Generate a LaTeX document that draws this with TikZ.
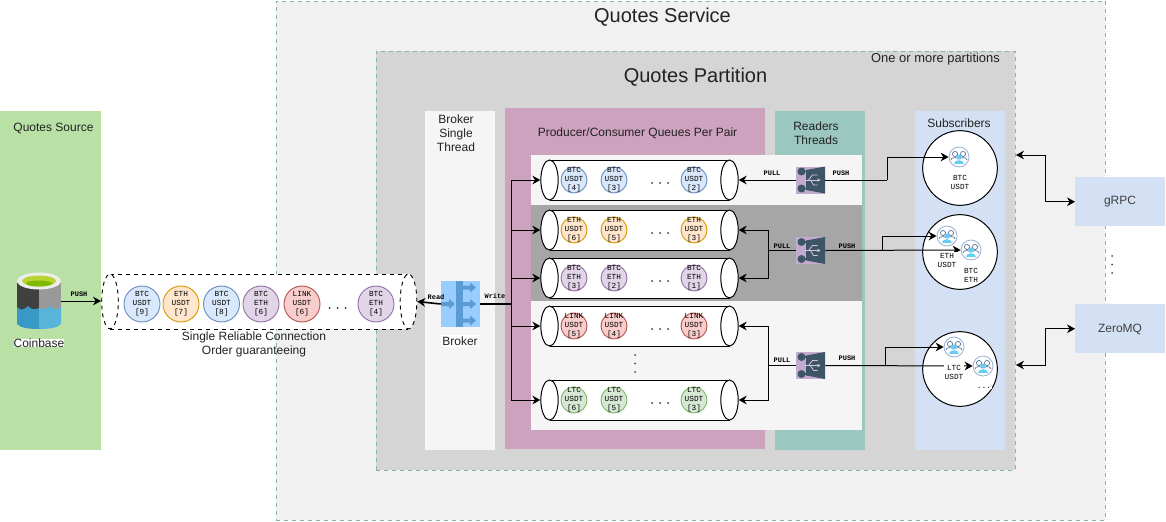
\documentclass[tikz,border=0pt]{standalone}
\usepackage{fontspec}
\setmainfont{Liberation Sans}
\newfontfamily\monof{Liberation Mono}
\usetikzlibrary{arrows.meta,shapes.geometric,calc}
\definecolor{svcfill}{HTML}{F1F1F1}
\definecolor{partfill}{HTML}{D5D5D5}
\definecolor{dashgreen}{HTML}{82B8A0}
\definecolor{srcfill}{HTML}{B9E0A5}
\definecolor{brkfill}{HTML}{F5F5F5}
\definecolor{prodfill}{HTML}{CDA2BE}
\definecolor{readfill}{HTML}{9AC7BF}
\definecolor{subfill}{HTML}{D4E1F5}
\definecolor{grayband}{HTML}{A6A6A6}
\definecolor{txt}{HTML}{222222}
\definecolor{bluef}{HTML}{DAE8FC}\definecolor{blued}{HTML}{6C8EBF}
\definecolor{orgf}{HTML}{FFE6CC}\definecolor{orgd}{HTML}{D79B00}
\definecolor{purf}{HTML}{E1D5E7}\definecolor{purd}{HTML}{9673A6}
\definecolor{redf}{HTML}{F8CECC}\definecolor{redd}{HTML}{B85450}
\definecolor{grnf}{HTML}{D5E8D4}\definecolor{grnd}{HTML}{82B366}
\definecolor{muxl}{HTML}{C3ABD0}\definecolor{muxd}{HTML}{3E5566}
\definecolor{iconb}{HTML}{99CCFF}\definecolor{icond}{HTML}{5B9BD5}
\definecolor{lowl}{HTML}{3999C6}\definecolor{lowr}{HTML}{59B4D9}
\definecolor{limea}{HTML}{B8D432}\definecolor{limeb}{HTML}{7FBA00}
\tikzset{
  pane/.style={draw=none,inner sep=0pt,anchor=north west},
  ttl/.style={font=\fontsize{9}{10.5}\selectfont,text=txt,align=center,inner sep=0pt},
  mono/.style={font=\monof\bfseries\fontsize{5.2}{6}\selectfont,inner sep=0pt,text=black},
  coinlab/.style={font=\monof\fontsize{5.8}{6.75}\selectfont,align=center,inner sep=0pt,text=black},
  arr/.style={draw=black,line width=0.75pt,-{Stealth[length=6pt,width=6.5pt]}},
  dbl/.style={draw=black,line width=0.75pt,{Stealth[length=6pt,width=6.5pt]}-{Stealth[length=6pt,width=6.5pt]}},
  wire/.style={draw=black,line width=0.75pt},
  dotty/.style={circle,fill=#1,inner sep=0pt,minimum size=1.5pt},
}
\newcommand{\panel}[6]{%
  \pgfmathsetmacro\pw{(#4-#2)*0.75}\pgfmathsetmacro\ph{(#5-#3)*0.75}%
  \node[pane,minimum width=\pw pt,minimum height=\ph pt,#6] (#1) at (#2,#3) {};}
\newcommand{\coin}[8]{%
  \node[circle,draw=#5,fill=#4,line width=0.7pt,minimum size=#6*1.5pt,inner sep=0pt] (#1) at (#2,#3) {};
  \node[coinlab] (#1t) at (#2,#3) {#7\\{}#8};}
\newcommand{\queue}[2]{%
  \fill[white] (550,#2-20) rectangle (730,#2+20);
  \draw[black,line width=0.75pt] (550,#2-20) -- (730,#2-20) (550,#2+20) -- (730,#2+20);
  \node[ellipse,draw=black,fill=white,line width=0.75pt,minimum width=13pt,minimum height=30pt,inner sep=0pt] (#1L) at (549.5,#2) {};
  \node[ellipse,draw=black,fill=white,line width=0.75pt,minimum width=13pt,minimum height=30pt,inner sep=0pt] (#1R) at (729.5,#2) {};}
\newcommand{\threedots}[3]{%
  \node[dotty=black!80] (#1a) at (#2-8,#3) {};\node[dotty=black!80] (#1b) at (#2,#3) {};\node[dotty=black!80] (#1c) at (#2+8,#3) {};}
\newcommand{\vdotsn}[5]{%
  \node[dotty=black!70] (#1a) at (#2,#3) {};\node[dotty=black!70] (#1b) at (#2,#4) {};\node[dotty=black!70] (#1c) at (#2,#5) {};}
\newcommand{\mux}[3]{%
  \node[draw=none,fill=muxl,inner sep=0pt,minimum width=21.75pt,minimum height=20.25pt] (#1) at (#2,#3) {};
  \fill[muxd] (#2-4.5,#3-10) -- (#2+14.5,#3-13.5) -- (#2+14.5,#3+13.5) -- (#2-4.5,#3+10) -- cycle;
  \fill[muxd] (#2-9,#3-8.5) circle[radius=4] (#2-9,#3+8.5) circle[radius=4];
  \draw[muxd,line width=1pt] (#2-9,#3-8.5) -- (#2-3,#3-8.5) (#2-9,#3+8.5) -- (#2-3,#3+8.5);
  \draw[muxl!70!white,line width=0.6pt,-{Stealth[length=2.5pt,width=2.5pt]}] (#2-6,#3) -- (#2+10,#3);
  \draw[muxl!70!white,line width=0.6pt] (#2-2,#3) -- (#2+2,#3-5) -- (#2+7,#3-5) (#2,#3) -- (#2+3,#3+5) -- (#2+7,#3+5);
}
\newcommand{\usericon}[3]{%
  \node[circle,draw=blued!70,fill=white,line width=0.6pt,minimum size=15pt,inner sep=0pt] (#1) at (#2,#3) {};
  \begin{scope}[shift={(#2,#3)}]
    \draw[blued!80!black,line width=0.5pt,fill=white] (-4,-3) circle[radius=2.6] (4,-3) circle[radius=2.6];
    \draw[blued!80!black,line width=0.5pt] (-8,3) .. controls (-8,0) and (-2,0) .. (-1,2) (8,3) .. controls (8,0) and (2,0) .. (1,2);
    \fill[cyan!60!white] (0,0) circle[radius=2.6];
    \fill[cyan!60!white] (-5,7) .. controls (-5,2) and (5,2) .. (5,7) -- cycle;
  \end{scope}}
\begin{document}
\begin{tikzpicture}[x=0.75pt,y=-0.75pt]
\useasboundingbox (0,0) rectangle (1166,521);
% panels
\panel{svc}{276}{0.5}{1105}{520}{fill=svcfill,draw=dashgreen,dashed,line width=0.6pt}
\panel{part}{376}{51}{1015}{470}{fill=partfill,draw=dashgreen,dashed,line width=0.6pt}
\panel{src}{0}{111}{101}{450}{fill=srcfill}
\panel{brkp}{425}{111}{495}{450}{fill=brkfill}
\panel{prod}{505}{108}{765}{449}{fill=prodfill}
\panel{read}{775}{111}{865}{450}{fill=readfill}
\panel{subs}{915}{111}{1005}{450}{fill=subfill}
\panel{rowa}{531}{155}{862}{205}{fill=brkfill}
\panel{rowb}{531}{205}{862}{301}{fill=grayband}
\panel{rowc}{531}{301}{862}{430}{fill=brkfill}
\panel{grpc}{1075}{177}{1165}{226}{fill=subfill}
\panel{zmq}{1075}{304}{1165}{353}{fill=subfill}
% titles
\node[ttl,font=\fontsize{15}{17}\selectfont] (tsvc) at (662.5,17) {Quotes Service};
\node[ttl,font=\fontsize{15}{17}\selectfont] (tpart) at (695.5,77) {Quotes Partition};
\node[ttl,font=\fontsize{9.7}{11}\selectfont] (tone) at (935.5,59) {One or more partitions};
\node[ttl] (tsrc) at (53.5,128.5) {Quotes Source};
\node[ttl] (tbrk) at (456,133) {Broker\\Single\\Thread};
\node[ttl] (tprod) at (637.5,133.5) {Producer/Consumer Queues Per Pair};
\node[ttl] (tread) at (816,133) {Readers\\Threads};
\node[ttl] (tsubs) at (959,123) {Subscribers};
\node[ttl,text=black!75] (tgrpc) at (1120,202) {gRPC};
\node[ttl,text=black!75] (tzmq) at (1120,329) {ZeroMQ};
% coinbase icon
\begin{scope}
  \fill[black!75] (17,283) -- (39,283) -- (39,310) -- (17,310) -- cycle;
  \fill[black!40] (39,283) -- (61,283) -- (61,310) -- (39,310) -- cycle;
  \fill[lowl] (17,307) .. controls (21,311) and (24,310) .. (28,306) .. controls (31,310) and (36,310) .. (39,308) -- (39,329) .. controls (30,329) and (20,328) .. (17,324) -- cycle;
  \fill[lowr] (39,308) .. controls (43,310) and (46,310) .. (50,306) .. controls (53,310) and (57,310) .. (61,307) -- (61,324) .. controls (58,328) and (48,329) .. (39,329) -- cycle;
  \fill[white!93!black] (39,281) ellipse[x radius=22,y radius=8.5];
  \fill[limea] (39,281) ellipse[x radius=17,y radius=5.5];
  \fill[limeb] (39,283.5) ellipse[x radius=13,y radius=3];
\end{scope}
\node[fill=white,inner sep=1pt,ttl] (lcb) at (39,343) {Coinbase};
% main cylinder
\fill[white] (110,274) rectangle (408,329);
\draw[black,dashed,line width=0.7pt] (110,274) -- (408,274) (110,329) -- (408,329);
\node[ellipse,draw=black,dashed,fill=white,line width=0.7pt,minimum width=12.5pt,minimum height=41pt,inner sep=0pt] (mL) at (110,301.5) {};
\node[ellipse,draw=black,dashed,fill=white,line width=0.7pt,minimum width=12.5pt,minimum height=41pt,inner sep=0pt] (mR) at (408.5,301.5) {};
\coin{ma}{142}{304}{bluef}{blued}{18}{BTC\\USDT}{[9]}
\coin{mb}{181}{304}{orgf}{orgd}{18}{ETH\\USDT}{[7]}
\coin{mc}{221.5}{304}{bluef}{blued}{18}{BTC\\USDT}{[8]}
\coin{md}{261}{304}{purf}{purd}{18}{BTC\\ETH}{[6]}
\coin{me}{302}{304}{redf}{redd}{18}{LINK\\USDT}{[6]}
\coin{mf}{376}{304}{purf}{purd}{18}{BTC\\ETH}{[4]}
\threedots{mdots}{337.5}{308}
\node[ttl] (lcon) at (254,344) {Single Reliable Connection\\Order guaranteeing};
% queues
\queue{qa}{180}
\queue{qb}{230}
\queue{qc}{278}
\queue{qd}{326}
\queue{qe}{400}
\coin{a1}{574}{180}{bluef}{blued}{13}{BTC\\USDT}{[4]}
\coin{a2}{614}{180}{bluef}{blued}{13}{BTC\\USDT}{[3]}
\coin{a3}{694}{180}{bluef}{blued}{13}{BTC\\USDT}{[2]}
\threedots{ad}{660}{183}
\coin{b1}{574}{230}{orgf}{orgd}{13}{ETH\\USDT}{[6]}
\coin{b2}{614}{230}{orgf}{orgd}{13}{ETH\\USDT}{[5]}
\coin{b3}{694}{230}{orgf}{orgd}{13}{ETH\\USDT}{[3]}
\threedots{bd}{660}{233}
\coin{c1}{574}{278}{purf}{purd}{13}{BTC\\ETH}{[3]}
\coin{c2}{614}{278}{purf}{purd}{13}{BTC\\ETH}{[2]}
\coin{c3}{694}{278}{purf}{purd}{13}{BTC\\ETH}{[1]}
\threedots{cd}{660}{281}
\coin{d1}{574}{326}{redf}{redd}{13}{LINK\\USDT}{[5]}
\coin{d2}{614}{326}{redf}{redd}{13}{LINK\\USDT}{[4]}
\coin{d3}{694}{326}{redf}{redd}{13}{LINK\\USDT}{[3]}
\threedots{dd}{660}{329}
\coin{e1}{574}{400}{grnf}{grnd}{13}{LTC\\USDT}{[6]}
\coin{e2}{614}{400}{grnf}{grnd}{13}{LTC\\USDT}{[5]}
\coin{e3}{694}{400}{grnf}{grnd}{13}{LTC\\USDT}{[3]}
\threedots{ed}{660}{403}
\vdotsn{qv}{635}{355}{363.5}{372}
\vdotsn{sv}{1112}{256}{264.5}{273}
% broker icon
\node[draw=none,fill=iconb,inner sep=0pt,minimum width=29.25pt,minimum height=34.5pt] (brk) at (460.5,304) {};
\fill[icond] (456,281) rectangle (462.5,327);
\foreach \yy in {287.5,304,320.5}{
  \fill[icond] (462,\yy-2) -- (470,\yy-2) -- (470,\yy-5) -- (476,\yy) -- (470,\yy+5) -- (470,\yy+2) -- (462,\yy+2) -- cycle;}
\fill[icond] (441,302) -- (449,302) -- (449,299) -- (455,304) -- (449,309) -- (449,306) -- (441,306) -- cycle;
\node[ttl,fill=white,inner sep=1pt] (lbrk) at (460,341) {Broker};
% mux
\mux{m1}{810.5}{180}
\mux{m2}{810.5}{250.5}
\mux{m3}{810.5}{365.5}
% subscribers
\node[circle,draw=black,fill=white,line width=0.75pt,minimum size=56pt,inner sep=0pt] (s1) at (960,168) {};
\node[circle,draw=black,fill=white,line width=0.75pt,minimum size=56pt,inner sep=0pt] (s2) at (960,252) {};
\node[circle,draw=black,fill=white,line width=0.75pt,minimum size=56pt,inner sep=0pt] (s3) at (960,369) {};
\usericon{u1}{959}{157}
\usericon{u2}{947}{236}
\usericon{u3}{971}{250}
\usericon{u4}{954}{347}
\usericon{u5}{983}{366}
% junctions
\coordinate (jw) at (511,304);
\coordinate (jp1) at (887,180);
\coordinate (jp2) at (882,250.5);
\coordinate (jp3) at (885,365.5);
\coordinate (jl2) at (768,250.5);
\coordinate (jl3) at (768,365.5);
\coordinate (jg) at (1045,155);
\coordinate (jz) at (1045,365);
\coordinate (ag) at (1016,155);
\coordinate (az) at (1016,365);
\coordinate (pend) at (101,301);
\coordinate (pstart) at (61,301);
% connectors
\draw[arr] (pstart) -- (pend);
\draw[arr,line width=1.2pt] (brk.west) -- (mR.east);
\draw[wire,line width=1.4pt] (brk.east) -- (jw);
\draw[arr] (jw) |- (qaL.west);
\draw[arr] (jw) |- (qbL.west);
\draw[arr] (jw) |- (qcL.west);
\draw[arr] (jw) |- (qdL.west);
\draw[arr] (jw) |- (qeL.west);
\draw[arr] (m1.west) -- (qaR.east);
\draw[wire] (m2.west) -- (jl2);
\draw[arr] (jl2) |- (qbR.east);
\draw[arr] (jl2) |- (qcR.east);
\draw[wire] (m3.west) -- (jl3);
\draw[arr] (jl3) |- (qdR.east);
\draw[arr] (jl3) |- (qeR.east);
\draw[wire] (m1.east) -- (jp1);
\draw[arr] (jp1) |- (u1.west);
\draw[arr] (m2.east) -- (u3.west);
\draw[arr] (jp2) |- (u2.west);
\draw[arr] (m3.east) -- (u5.west);
\draw[arr] (jp3) |- (u4.west);
\draw[dbl] (ag) -- (jg) |- (grpc.west);
\draw[dbl] (az) -- (jz) |- (zmq.west);
% subscriber labels (over lines)
\node[coinlab,fill=white,inner sep=0.5pt] (ls1) at (960,182) {BTC\\USDT};
\node[coinlab,fill=white,inner sep=0.5pt] (ls2) at (947,260) {ETH\\USDT};
\node[coinlab,fill=white,inner sep=0.5pt] (ls3) at (971,275) {BTC\\ETH};
\node[coinlab,fill=white,inner sep=0.5pt] (ls4) at (954,372) {LTC\\USDT};
\node[mono,fill=white,inner sep=0.5pt,font=\monof\fontsize{6}{7}\selectfont] (ls5) at (984,388) {...};
% wire labels
\node[mono] (lp0) at (79,294.5) {PUSH};
\node[mono] (lread) at (436,297) {Read};
\node[mono] (lwrite) at (495,296) {Write};
\node[mono] (lp1) at (772,173) {PULL};
\node[mono] (lu1) at (841,173) {PUSH};
\node[mono] (lp2) at (782,246) {PULL};
\node[mono] (lu2) at (847,246) {PUSH};
\node[mono] (lp3) at (782,360) {PULL};
\node[mono] (lu3) at (847,358) {PUSH};
\end{tikzpicture}
\end{document}
